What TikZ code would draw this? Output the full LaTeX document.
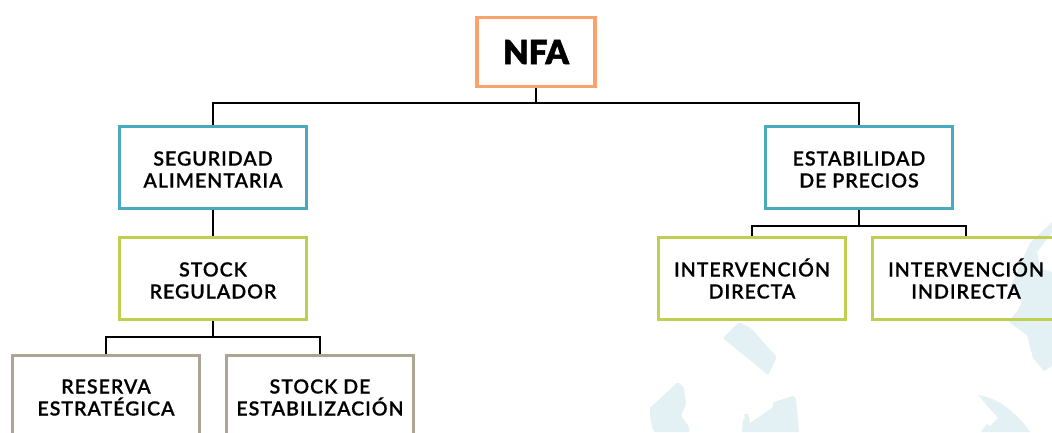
\documentclass[tikz,border=0pt]{standalone}
\usepackage{fontspec}
\setmainfont[LetterSpace=5,FakeBold=0.5]{Lato Semibold}
\newfontfamily\nfafont[FakeBold=1.5]{Lato Black}
\definecolor{mapblue}{HTML}{E3F0F4}
\definecolor{orangeb}{HTML}{F9A26C}
\definecolor{tealb}{HTML}{4BA9BD}
\definecolor{greenb}{HTML}{C0CF52}
\definecolor{greyb}{HTML}{ADA594}
\newcommand{\capline}{\vphantom{Ó}}
\tikzset{
  box/.style={draw, line width=3.4pt, minimum width=186.5pt, minimum height=81.5pt, align=center, inner sep=0pt,
    font=\fontsize{19.6}{22}\selectfont},
  teal box/.style={box, draw=tealb},
  green box/.style={box, draw=greenb},
  grey box/.style={box, draw=greyb, minimum height=80.5pt},
  wire/.style={draw=black, line width=1.5pt},
  land/.style={fill=mapblue, draw=none}
}
\begin{document}
\begin{tikzpicture}[x=1pt,y=-1pt]
\useasboundingbox (0,0) rectangle (1052,432);
\clip (0,0) rectangle (1052,432);
\fill[white] (0,0) rectangle (1052,432);
\fill[land, rounded corners=2pt] (723,338) -- (739,322) -- (752,329) -- (764,343) -- (777,357) -- (768,375) -- cycle;
\fill[land, rounded corners=1.5pt] (650,408) -- (678,382) -- (684,388) -- (686,404) -- (681,416) -- (688,425) -- (690,432) -- (654,432) .. controls (651,425) and (650,416) .. (650,408) -- cycle;
\fill[land] (742,432) -- (743,420) -- (745,418) -- (744,414) -- (748,414) -- (750,423) -- (772,408) -- (774,402) -- (793,396) -- (796,399) -- (799,432) -- cycle;
\fill[land] (978,395) .. controls (995,397) and (1015,410) .. (1030,432) -- (981,432) -- (987,424) -- (990,426) -- (998,418) -- cycle;
\fill[land] (1052,222) -- (1030,243) -- (1010,287) -- (1022,302) -- (1018,310) -- (1009,322) -- (1027,335) -- (1033,358) -- (1044,371) -- (1052,366) -- (1052,272) -- (1040,268) -- (1037,252) -- (1052,232) -- cycle;
\node[box, draw=orangeb, minimum width=118pt, minimum height=68.5pt, font=\fontsize{33}{36}\selectfont\nfafont] (nfa) at (536,52) {NFA};
\node[teal box] (seg) at (213,167.5) {\capline SEGURIDAD\\ALIMENTARIA};
\node[teal box] (est) at (859,167.5) {\capline ESTABILIDAD\\DE PRECIOS};
\node[green box] (reg) at (213,278.5) {\capline STOCK\\REGULADOR};
\node[green box] (dir) at (752,278.5) {\capline INTERVENCIÓN\\DIRECTA};
\node[green box] (ind) at (966,278.5) {\capline INTERVENCIÓN\\INDIRECTA};
\node[grey box] (res) at (106,395.5) {\capline RESERVA\\ESTRATÉGICA};
\node[grey box] (sta) at (320,395.5) {\capline STOCK DE\\ESTABILIZACIÓN};
\coordinate (j1) at (536,103);
\coordinate (j2) at (859,226);
\coordinate (j3) at (213,337);
\draw[wire] (nfa.south) -- (j1);
\draw[wire] (seg.north) |- (j1) -| (est.north);
\draw[wire] (seg.south) -- (reg.north);
\draw[wire] (est.south) -- (j2);
\draw[wire] (dir.north) |- (j2) -| (ind.north);
\draw[wire] (reg.south) -- (j3);
\draw[wire] (res.north) |- (j3) -| (sta.north);
\end{tikzpicture}
\end{document}
